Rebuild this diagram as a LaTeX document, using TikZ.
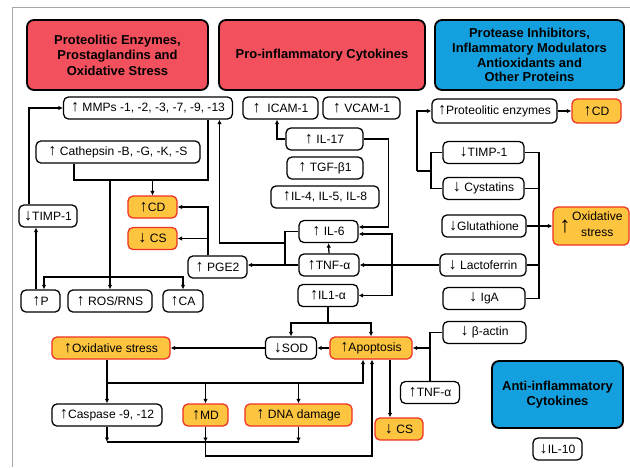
\documentclass[tikz,border=0pt]{standalone}
\usepackage{fontspec}
\setmainfont{Liberation Sans}
\usepackage{tikz}
\usetikzlibrary{arrows.meta}
\definecolor{headred}{RGB}{242,80,92}
\definecolor{headblue}{RGB}{20,160,222}
\definecolor{hotfill}{RGB}{253,196,64}
\definecolor{hotline}{RGB}{238,50,36}
\newcommand{\upa}{{\fontsize{11.5}{10}\selectfont\bfseries ↑}}
\newcommand{\dna}{{\fontsize{11.5}{10}\selectfont\bfseries ↓}}

\begin{document}
\begin{tikzpicture}
[x=0.025cm,y=-0.025cm]
\tikzstyle{white node}=[rectangle,draw,rounded corners=3.5pt,line width=0.9pt,fill=white,minimum height=0.55cm,inner sep=1pt,font=\fontsize{8.6}{10}\selectfont]
\tikzstyle{hot node}=[white node,draw=hotline,fill=hotfill]
\tikzstyle{head node}=[rectangle,draw,rounded corners=5pt,line width=1.3pt,minimum height=1.75cm,align=center,font=\bfseries\fontsize{9.2}{11}\selectfont]
\tikzstyle{link}=[line width=0.9pt]
\tikzstyle{arrow link}=[link,-{Latex[length=3.2pt,width=3.2pt]}]

\useasboundingbox (0,0) rectangle (630,467);
\draw[gray!70,line width=0.6pt] (12,467) -- (12,7) -- (630,7);

\node(0)[head node,fill=headred,minimum width=4.525cm] at (117.5,55) {Proteolitic Enzymes,\\Prostaglandins and\\Oxidative Stress};
\node(1)[head node,fill=headred,minimum width=5.15cm] at (322,55) {Pro-inflammatory Cytokines};
\node(2)[head node,fill=headblue,minimum width=4.725cm,font=\bfseries\fontsize{9.2}{10.6}\selectfont] at (529.5,55) {Protease Inhibitors,\\Inflammatory Modulators\\Antioxidants and\\Other Proteins};
\node(3)[head node,fill=headblue,minimum width=3.275cm,minimum height=1.675cm] at (557.5,394.5) {Anti-inflammatory\\Cytokines};

\node(4)[white node,minimum width=4.22cm] at (148,108) {\upa\ MMPs -1, -2, -3, -7, -9, -13};
\node(5)[white node,minimum width=4.1cm] at (118,152) {\upa\ Cathepsin -B, -G, -K, -S};
\node(6)[white node,minimum width=1.45cm] at (48,216) {\dna TIMP-1};
\node(7)[hot node,minimum width=1.225cm] at (152.5,207) {\upa CD};
\node(8)[hot node,minimum width=1.225cm] at (152.5,238.5) {\dna\ CS};
\node(9)[white node,minimum width=0.975cm] at (40.5,301) {\upa P};
\node(10)[white node,minimum width=2.1cm] at (110,301) {\upa\ ROS/RNS};
\node(11)[white node,minimum width=1cm] at (183,301) {\upa CA};
\node(12)[white node,minimum width=1.475cm] at (217.5,267) {\upa\ PGE2};
\node(13)[hot node,minimum width=2.95cm] at (111,348) {\upa Oxidative stress};

\node(14)[white node,minimum width=1.875cm] at (280.5,108) {\upa\ \ ICAM-1};
\node(15)[white node,minimum width=1.925cm] at (361.5,108) {\upa\ VCAM-1};
\node(16)[white node,minimum width=1.925cm] at (324.5,139) {\upa\ IL-17};
\node(17)[white node,minimum width=1.9cm] at (325,168) {\upa\ TGF-β1};
\node(18)[white node,minimum width=2.7cm] at (325,197) {\upa IL-4, IL-5, IL-8};
\node(19)[white node,minimum width=1.475cm] at (328.5,231.5) {\upa\ IL-6};
\node(20)[white node,minimum width=1.5cm] at (329,265) {\upa TNF-α};
\node(21)[white node,minimum width=1.5cm] at (328,295.5) {\upa IL1-α};

\node(22)[white node,minimum width=1.275cm] at (291,348) {\dna SOD};
\node(23)[hot node,minimum width=2.05cm] at (371,348) {\upa Apoptosis};
\node(24)[white node,minimum width=2.75cm] at (107,415) {\upa Caspase -9, -12};
\node(25)[hot node,minimum width=1.125cm] at (205.5,415) {\upa MD};
\node(26)[hot node,minimum width=2.675cm] at (298.5,415) {\upa\ DNA damage};
\node(27)[hot node,minimum width=1.2cm] at (399,429) {\dna\ CS};
\node(28)[white node,minimum width=1.475cm] at (430,392.5) {\upa TNF-α};
\node(29)[white node,minimum width=2.075cm] at (484.5,332.5) {\dna\ β-actin};
\node(30)[white node,minimum width=1.225cm] at (557.5,449) {\dna IL-10};

\node(31)[white node,minimum width=3.125cm,minimum height=0.6cm] at (494.5,111) {\upa Proteolitic enzymes};
\node(32)[hot node,minimum width=1.225cm,minimum height=0.6cm] at (596.5,111) {\upa CD};
\node(33)[white node,minimum width=2.025cm] at (483.5,152.5) {\dna TIMP-1};
\node(34)[white node,minimum width=2.025cm] at (483.5,188.5) {\dna\ Cystatins};
\node(35)[white node,minimum width=2.1cm] at (484,226) {\dna Glutathione};
\node(36)[white node,minimum width=2.15cm] at (483,265) {\dna\ Lactoferrin};
\node(37)[white node,minimum width=2.05cm] at (484,298.5) {\dna\ IgA};
\node(38)[hot node,minimum width=1.9cm,minimum height=0.95cm,inner sep=2pt] at (591,226) {\raisebox{-0.3em}{\fontsize{16}{16}\selectfont\bfseries ↑}\hspace{1pt}\begin{tabular}{@{}c@{}}Oxidative\\[1.5pt]stress\end{tabular}};

\coordinate(a) at (74,180);
\coordinate(b) at (208,180);
\coordinate(c) at (110,277);
\coordinate(d) at (285,243);
\coordinate(e) at (328,323);
\coordinate(f) at (392,265);
\coordinate(g) at (107,383);
\coordinate(h) at (107,442);
\coordinate(i) at (417,171);
\coordinate(j) at (431,171);
\coordinate(k) at (539,226);

\draw[arrow link] ([shift={(-19,0)}]6.north) |- (4.west);
\draw[arrow link] ([shift={(-4.5,0)}]9.north) -- ([shift={(-4.5,0)}]9.north |- 6.south);
\draw[link] (5.south -| a) -- (a) -- (b) -- (4.south -| b);
\draw[arrow link] (a -| 7.north) -- (7.north);
\draw[arrow link] (a -| 10.north) -- (10.north);
\draw[arrow link] (c) -| ([shift={(3.5,0)}]9.north);
\draw[arrow link] (c) -| (11.north);
\draw[arrow link] ([shift={(-9.5,0)}]12.north) |- (7.east);
\draw[arrow link] ([shift={(-9.5,0)}]12.north) |- (8.east);
\draw[arrow link] (20.west) -- (20.west -| 12.east);

\draw[link] (19.west) -| (d |- 20.west) -- (20.west);
\draw[arrow link] (d) -| ([shift={(71.5,0)}]4.south);
\draw[arrow link] (16.west) -| ([shift={(-3.5,0)}]14.south);
\draw[arrow link] (16.east) -| ([shift={(30,-4.5)}]19.east) -- ([shift={(0,-4.5)}]19.east);
\draw[arrow link] (20.north) -- (19.south);
\draw[arrow link] (36.west) -- (36.west -| 20.east);
\draw[arrow link] (f) |- ([shift={(0,2.5)}]19.east);
\draw[arrow link] (f) |- (21.east);

\draw[link] (21.south) -- (e);
\draw[arrow link] (e) -| (22.north);
\draw[arrow link] (e) -| (23.north);
\draw[arrow link] (23.west) -- (22.east);
\draw[arrow link] (22.west) -- (13.east);
\draw[link] (29.west) -| (28.north |- 23.east) -- (28.north);
\draw[arrow link] (28.north |- 23.east) -- (23.east);
\draw[arrow link] ([shift={(19,0)}]23.south) -- ([shift={(19,0)}]23.south |- 27.north);

\draw[arrow link] (24.north |- 13.south) -- (24.north);
\draw[arrow link] (g) -| ([shift={(-8,0)}]23.south);
\draw[arrow link] (g -| 25.north) -- (25.north);
\draw[arrow link] (g -| 26.north) -- (26.north);
\draw[arrow link] (24.south) -- (h);
\draw[arrow link] (25.south) -- (h -| 25.south);
\draw[arrow link] (26.south) -- (h -| 26.south);
\draw[link] (h) -- (h -| 26.south);
\draw[arrow link] (h -| 25.south) -- ++(0,14) -| ([shift={(1,0)}]23.south);

\draw[arrow link] (i) |- (31.west);
\draw[link] (33.west) -| (j) |- (34.west);
\draw[link] (j) -- (i);
\draw[arrow link] (31.east) -- (32.west);
\draw[link] (33.east) -| (k);
\draw[link] (34.east) -| (k);
\draw[link] (36.east) -| (k);
\draw[link] (37.east) -| (k);
\draw[arrow link] (35.east) -- (38.west);
\end{tikzpicture}
\end{document}
